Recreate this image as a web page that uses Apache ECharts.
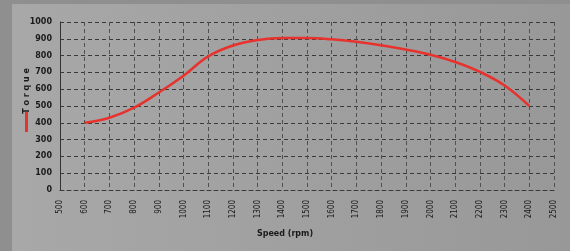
<!DOCTYPE html>
<html>
<head>
<meta charset="utf-8">
<script src="https://cdn.jsdelivr.net/npm/echarts@6/dist/echarts.min.js"></script>
<style>
  html, body { margin: 0; padding: 0; background: #8f8f8f; }
  #chart {
    position: absolute; left: 12px; top: 4px; width: 558px; height: 247px;
    background: linear-gradient(to right, #a8a8a8, #a0a0a0 50%, #989898);
  }
</style>
</head>
<body>
<div id="chart"></div>
<script>
// rpm / torque
const speed = [600, 700, 800, 900, 1000, 1100, 1200, 1300, 1400, 1500, 1600, 1700, 1800, 1900, 2000, 2100, 2200, 2300, 2400];
const torque = [400, 430, 490, 580, 680, 795, 860, 893, 905, 905, 897, 882, 862, 836, 805, 762, 703, 622, 500];
const speedTicks = { min: 500, max: 2500, step: 100 };
const torqueTicks = { min: 0, max: 1000, step: 100 };

const chart = echarts.init(document.getElementById("chart"));

const dashH = { color: "#3a3a3a", width: 1, type: [4, 3] };
const dashV = { color: "#505050", width: 1, type: [4, 3] };

chart.setOption({
  animation: false,
  grid: { left: 48, right: 16, top: 18, bottom: 61, outerBoundsMode: "none", containLabel: false },
  legend: {
    left: 8, top: 103,
    icon: "rect", itemWidth: 3, itemHeight: 20,
    formatter: () => "",
    textStyle: { fontSize: 1 },
    data: ["Torque"],
  },
  xAxis: {
    type: "value",
    min: speedTicks.min, max: speedTicks.max, interval: speedTicks.step,
    name: "Speed (rpm)", nameLocation: "middle", nameGap: 40, nameMoveOverlap: false,
    nameTextStyle: { fontSize: 8, fontWeight: "bold", color: "#1a1a1a", fontFamily: "DejaVu Sans", padding: [0, 44, 0, 0] },
    axisLine: { show: true, lineStyle: dashH },
    axisTick: { show: false },
    splitLine: { show: true, lineStyle: dashV },
    axisLabel: { rotate: 90, fontSize: 8, color: "#1a1a1a", fontFamily: "DejaVu Sans Condensed", margin: 10, formatter: v => String(v) },
  },
  yAxis: {
    type: "value",
    min: torqueTicks.min, max: torqueTicks.max, interval: torqueTicks.step,
    name: "T o r q u e", nameLocation: "middle", nameRotate: 90, nameGap: 29, nameMoveOverlap: false,
    nameTextStyle: { fontSize: 8, fontWeight: "bold", color: "#1a1a1a", fontFamily: "DejaVu Sans", padding: [0, 0, 0, 30] },
    axisLine: { show: true, lineStyle: { color: "#333", width: 1 } },
    axisTick: { show: false },
    splitLine: { show: true, lineStyle: dashH },
    axisLabel: { fontSize: 8, fontWeight: "bold", color: "#1a1a1a", fontFamily: "DejaVu Sans", margin: 8, formatter: v => String(v) },
  },
  series: [{
    name: "Torque",
    type: "line",
    smooth: 0.4,
    symbol: "none",
    data: speed.map((s, i) => [s, torque[i]]),
    lineStyle: { color: "#e8322e", width: 2.5 },
    itemStyle: { color: "#e8322e" },
  }],
});
</script>
</body>
</html>
